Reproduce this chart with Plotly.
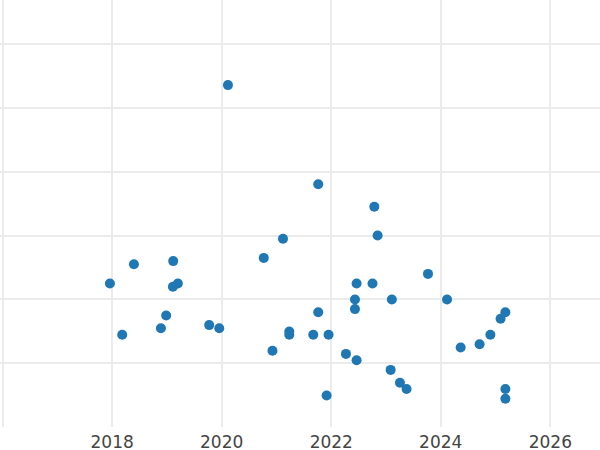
import plotly.graph_objects as go

# Release dates and scores
dates = [
    "2017-12-17", "2018-03-09", "2018-05-26", "2018-11-22", "2018-12-27",
    "2019-02-10", "2019-02-12", "2019-03-15", "2019-10-10", "2019-12-16",
    "2020-02-12", "2020-10-08", "2020-12-05", "2021-02-13", "2021-03-27",
    "2021-03-27", "2021-09-03", "2021-10-06", "2021-10-06", "2021-12-01",
    "2021-12-14", "2022-04-09", "2022-06-08", "2022-06-08", "2022-06-19",
    "2022-06-19", "2022-10-03", "2022-10-15", "2022-11-06", "2023-02-01",
    "2023-02-09", "2023-04-04", "2023-05-18", "2023-10-08", "2024-02-12",
    "2024-05-13", "2024-09-16", "2024-11-27", "2025-02-03", "2025-03-07",
    "2025-03-07", "2025-03-07",
]
scores = [
    45, 29, 51, 31, 35,
    44, 52, 45, 32, 31,
    107, 53, 24, 59, 30,
    29, 29, 36, 76, 10,
    29, 23, 40, 37, 45,
    21, 45, 69, 60, 18,
    40, 14, 12, 48, 40,
    25, 26, 29, 34, 36,
    12, 9,
]

grid_color = "#ebebeb"

fig = go.Figure()
fig.add_trace(go.Scatter(
    x=dates, y=scores, mode="markers",
    marker=dict(color="#1f77b4", size=10),
    showlegend=False,
))

fig.update_layout(
    width=600, height=450,
    margin=dict(l=0, r=0, t=0, b=23),
    paper_bgcolor="white", plot_bgcolor="white",
    font=dict(family="DejaVu Sans", size=17, color="#444"),
)
fig.update_xaxes(
    type="date", range=["2015-12-15", "2026-11-28"],
    dtick="M24", tick0="2016-01-01", tickformat="%Y",
    showgrid=True, gridcolor=grid_color, gridwidth=1.5,
    zeroline=False, showline=False, ticks="", ticklabelstandoff=3,
    automargin=False,
)
fig.update_yaxes(
    range=[0.15, 133.6], dtick=20, tick0=0,
    showgrid=True, gridcolor=grid_color, gridwidth=1.5,
    zeroline=False, showline=False, showticklabels=False, ticks="",
    automargin=False,
)

# page body margin off so the 600x450 figure fills the window
fig.write_html(
    "out.html",
    config={"displayModeBar": False},
    post_script="document.body.style.margin='0';",
)
